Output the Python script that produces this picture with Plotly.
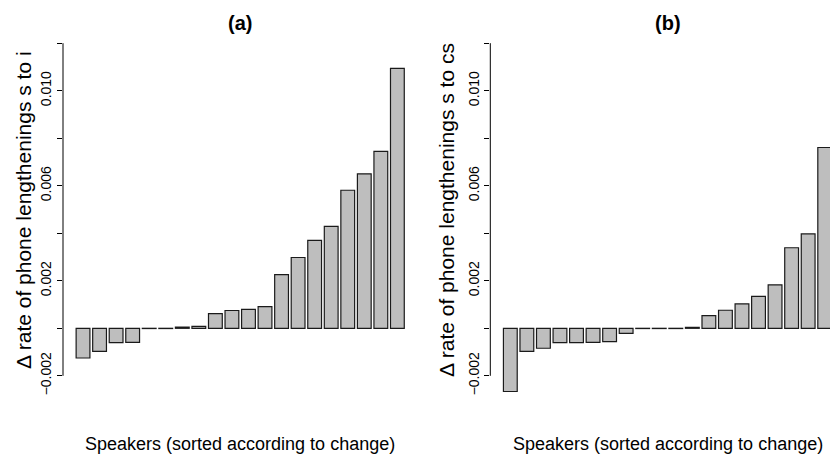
import plotly.graph_objects as go

# ---- data ----
speakers = list(range(1, 21))
change_s_to_i = [-0.00125, -0.00097, -0.00060, -0.00059, -0.00001, -0.00001,
                 0.00005, 0.00008, 0.00062, 0.00075, 0.00080, 0.00091,
                 0.00226, 0.00298, 0.00370, 0.00429, 0.00581, 0.00650,
                 0.00745, 0.01094]
change_s_to_cs = [-0.00266, -0.00097, -0.00084, -0.00060, -0.00060, -0.00059,
                  -0.00056, -0.00021, -0.00001, -0.00001, -0.00001, 0.00004,
                  0.00053, 0.00076, 0.00103, 0.00134, 0.00183, 0.00339,
                  0.00397, 0.00761]
tick_vals = [-0.002, 0.0, 0.002, 0.004, 0.006, 0.008, 0.010, 0.012]
tick_text = ["\u22120.002", "", "0.002", "", "0.006", "", "0.010", ""]
panel_titles = ["(a)", "(b)"]
y_titles = ["\u0394 rate of phone lengthenings s to i",
            "\u0394 rate of phone lengthenings s to cs"]
x_title = "Speakers (sorted according to change)"

W, H = 830, 459
FONT = "Liberation Sans, Arial, Helvetica, sans-serif"
BAR_FILL = "#bebebe"
BAR_LINE = "#1a1a1a"

def px_x(p):
    return p / W

def px_y(p):
    return (H - p) / H

fig = go.Figure()
fig.add_trace(go.Bar(x=speakers, y=change_s_to_i, width=1 / 1.2,
                     marker=dict(color=BAR_FILL, line=dict(color=BAR_LINE, width=1.2)),
                     xaxis="x", yaxis="y", showlegend=False, hoverinfo="skip"))
fig.add_trace(go.Bar(x=speakers, y=change_s_to_cs, width=1 / 1.2,
                     marker=dict(color=BAR_FILL, line=dict(color=BAR_LINE, width=1.2)),
                     xaxis="x2", yaxis="y2", showlegend=False, hoverinfo="skip"))

y_top = (328.3 - 30) / 23760
y_bot = (328.3 - 400) / 23760
ydom = [px_y(400), px_y(30)]

yaxis_common = dict(range=[y_bot, y_top], domain=ydom, showgrid=False, zeroline=False,
                    showline=False, tickmode="array", tickvals=tick_vals, ticktext=tick_text,
                    ticks="outside", ticklen=5, tickwidth=1, tickcolor="black",
                    tickangle=-90, tickfont=dict(family=FONT, size=14, color="black"),
                    fixedrange=True)
xaxis_common = dict(showgrid=False, zeroline=False, showline=False, showticklabels=False,
                    ticks="", fixedrange=True)

fig.update_layout(
    width=W, height=H,
    margin=dict(l=0, r=0, t=0, b=0),
    paper_bgcolor="white", plot_bgcolor="white",
    xaxis=dict(xaxis_common, domain=[px_x(63), px_x(417.4)], range=[-0.21, 21.21], anchor="y"),
    yaxis=dict(yaxis_common, anchor="x"),
    xaxis2=dict(xaxis_common, domain=[px_x(490.3), 1.0], range=[-0.21, 20.32], anchor="y2"),
    yaxis2=dict(yaxis_common, anchor="x2"),
    bargap=0,
)

# y axis lines spanning only the tick range (R style)
for xr, yr in [("x domain", "y"), ("x2 domain", "y2")]:
    fig.add_shape(type="line", xref=xr, yref=yr, x0=0, x1=0,
                  y0=tick_vals[0], y1=tick_vals[-1], line=dict(color="black", width=1))

centers = [240, 667.5]
ytitle_x = [23, 446]
for i in range(2):
    fig.add_annotation(text="<b>%s</b>" % panel_titles[i], xref="paper", yref="paper",
                       x=px_x(centers[i]), y=px_y(23), xanchor="center", yanchor="middle",
                       showarrow=False, font=dict(family=FONT, size=20, color="black"))
    fig.add_annotation(text=x_title, xref="paper", yref="paper",
                       x=px_x(centers[i]), y=px_y(444), xanchor="center", yanchor="middle",
                       showarrow=False, font=dict(family=FONT, size=18, color="black"))
    fig.add_annotation(text=y_titles[i], xref="paper", yref="paper", textangle=-90,
                       x=px_x(ytitle_x[i]), y=px_y(210), xanchor="center", yanchor="middle",
                       showarrow=False, font=dict(family=FONT, size=21, color="black"))

fig.write_html("out.html",
               config={"displayModeBar": False, "staticPlot": True},
               post_script="document.body.style.margin='0px';"
                           "document.body.style.overflow='hidden';")
